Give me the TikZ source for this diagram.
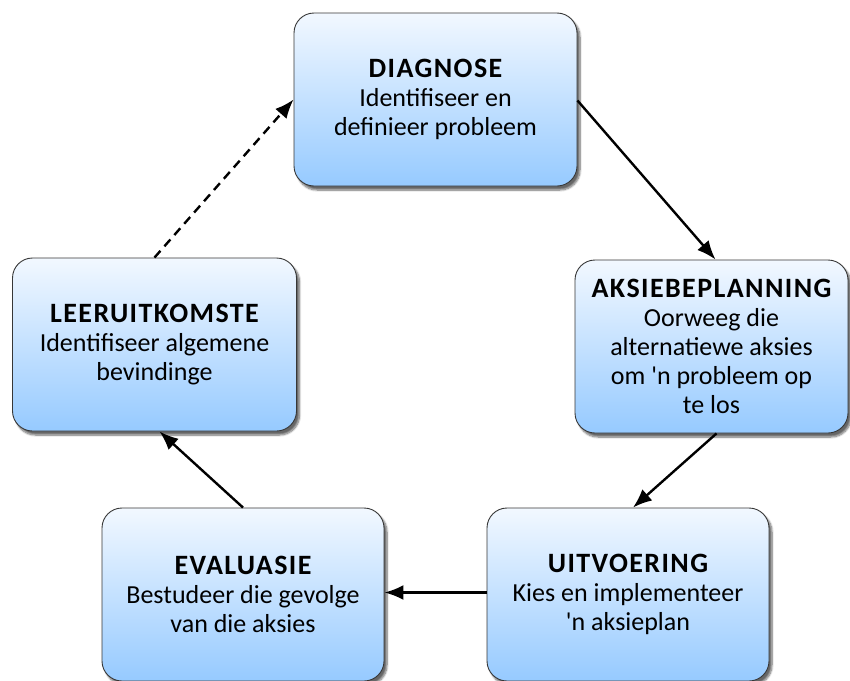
\documentclass[tikz,border=0pt]{standalone}
\usepackage{fontspec}
\setmainfont{Carlito}[Ligatures=TeXOff]
\usetikzlibrary{arrows.meta,shadows.blur}
\definecolor{boxtop}{RGB}{242,248,255}
\definecolor{boxbottom}{RGB}{150,202,255}
\definecolor{boxline}{RGB}{55,55,55}
\newcommand{\stagetitle}[1]{{\bfseries\addfontfeature{LetterSpace=5}\fontsize{28}{29}\selectfont #1}}
\begin{document}
\begin{tikzpicture}[x=1pt,y=-1pt,
  stage/.style={draw=boxline, line width=0.9pt, rounded corners=20pt,
    top color=boxtop, bottom color=boxbottom,
    blur shadow={shadow xshift=3pt, shadow yshift=-4pt, shadow blur steps=8, shadow opacity=60},
    minimum height=173pt, align=center, inner sep=0pt,
    font=\fontsize{26}{29}\selectfont},
  flow/.style={-{Latex[length=19pt,width=15pt]}, line width=2.4pt},
  loopback/.style={flow, dash pattern=on 9pt off 6pt}]
  \useasboundingbox (0,0) rectangle (850,680);
  \clip (0,0) rectangle (850,680);

  \node[stage, minimum width=283pt] (diag) at (435.5,99.5)
    {\stagetitle{DIAGNOSE}\\Identifiseer en\\definieer probleem};
  \node[stage, minimum width=273pt] (aksie) at (711.5,346.5)
    {\stagetitle{AKSIEBEPLANNING}\\Oorweeg die\\alternatiewe aksies\\om 'n probleem op\\te los};
  \node[stage, minimum width=284pt] (leer) at (154.5,344.5)
    {\stagetitle{LEERUITKOMSTE}\\Identifiseer algemene\\bevindinge};
  \node[stage, minimum width=282pt] (uit) at (628,594.5)
    {\stagetitle{UITVOERING}\\Kies en implementeer\\'n aksieplan};
  \node[stage, minimum width=282pt] (eval) at (243,594.5)
    {\stagetitle{EVALUASIE}\\Bestudeer die gevolge\\van die aksies};

  \draw[flow] ([yshift=-1pt]diag.east) -- ([xshift=4pt]aksie.north);
  \draw[flow] ([xshift=5pt]aksie.south) -- ([xshift=5pt]uit.north);
  \draw[flow] ([yshift=2pt]uit.west) -- ([yshift=2pt]eval.east);
  \draw[flow] (eval.north) -- ([xshift=5pt]leer.south);
  \draw[loopback] (leer.north) -- (diag.west);
\end{tikzpicture}
\end{document}
